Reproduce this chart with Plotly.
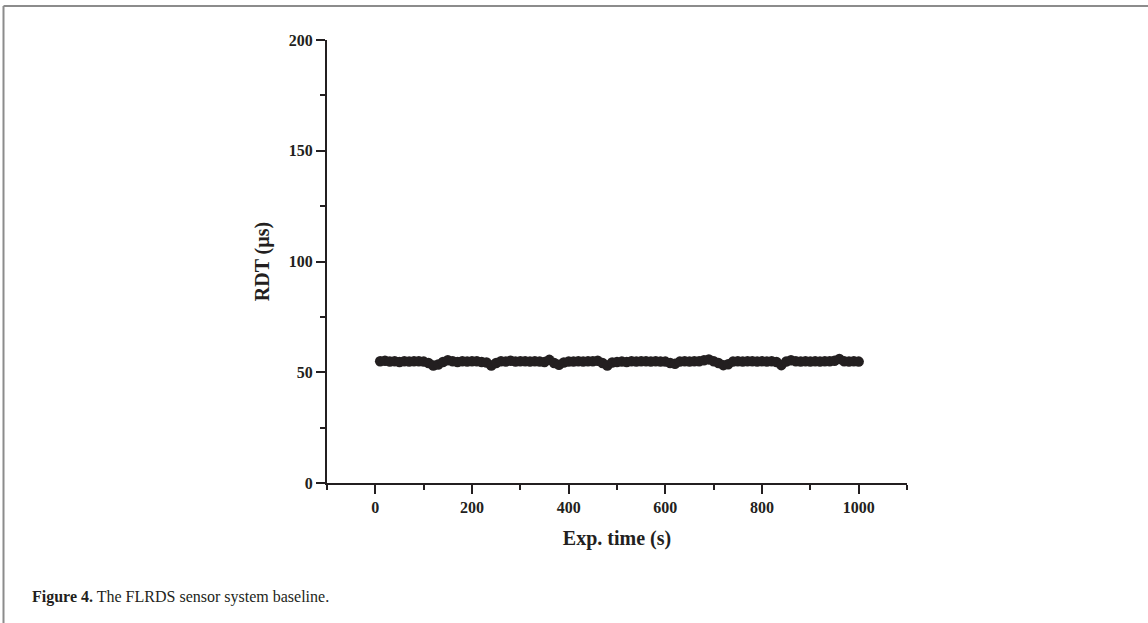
import plotly.graph_objects as go

time_s = list(range(10, 1001, 10))
rdt_us = [
    55.0, 55.2, 54.8, 55.0, 54.6, 55.0, 54.8, 55.0, 55.0, 54.8,
    54.2, 53.0, 53.5, 54.6, 55.4, 55.0, 54.6, 55.0, 54.8, 55.0,
    55.0, 54.6, 54.4, 53.0, 54.2, 55.0, 54.8, 55.2, 54.8, 55.0,
    55.0, 54.8, 55.0, 54.8, 54.6, 55.6, 54.2, 53.4, 54.4, 54.8,
    54.8, 55.0, 54.8, 55.0, 55.0, 55.2, 54.2, 53.0, 54.4, 54.6,
    54.8, 54.6, 55.0, 54.8, 55.0, 55.0, 54.8, 55.0, 54.8, 54.8,
    54.2, 53.8, 54.8, 55.0, 54.8, 55.0, 55.0, 55.4, 55.8, 55.0,
    54.2, 53.2, 53.6, 54.8, 55.0, 54.8, 55.0, 55.0, 54.8, 55.0,
    54.8, 55.0, 54.6, 53.2, 54.8, 55.4, 55.0, 54.8, 55.0, 54.8,
    55.0, 54.8, 55.0, 55.0, 55.2, 56.0, 55.0, 54.8, 55.0, 54.8,
]

x_title = "Exp. time (s)"
y_title = "RDT (µs)"
caption_bold = "Figure 4."
caption_rest = " The FLRDS sensor system baseline."

ink = "#231f20"
serif = "Liberation Serif"

fig = go.Figure()
fig.add_trace(go.Scatter(
    x=time_s, y=rdt_us, mode="lines+markers",
    line=dict(color=ink, width=4),
    marker=dict(color=ink, size=10.5),
    showlegend=False,
))

L, R, T, B = 327, 907, 40, 483
W, H = 1148, 623

fig.update_layout(
    width=W, height=H,
    margin=dict(l=L, r=W - R, t=T, b=H - B),
    paper_bgcolor="white", plot_bgcolor="white",
    font=dict(family=serif, color=ink),
)
fig.update_xaxes(
    range=[-100, 1100], tick0=0, dtick=200,
    showgrid=False, zeroline=False,
    showline=True, linecolor=ink, linewidth=2,
    ticks="outside", ticklen=9, tickwidth=2, tickcolor=ink,
    minor=dict(dtick=100, tick0=-100, ticks="outside", ticklen=5, tickwidth=2, tickcolor=ink),
    tickfont=dict(family=serif, size=16, weight="bold", color=ink),
    title=dict(text="<b>" + x_title + "</b>", font=dict(family=serif, size=20, color=ink), standoff=16),
)
fig.update_yaxes(
    range=[0, 200], tick0=0, dtick=50,
    showgrid=False, zeroline=False,
    showline=True, linecolor=ink, linewidth=2,
    ticks="outside", ticklen=9, tickwidth=2, tickcolor=ink,
    minor=dict(dtick=25, ticks="outside", ticklen=5, tickwidth=2, tickcolor=ink),
    tickfont=dict(family=serif, size=16, weight="bold", color=ink),
    title=dict(text="<b>" + y_title + "</b>", font=dict(family=serif, size=20, color=ink), standoff=14),
)

def px_x(p):
    return (p - L) / (R - L)

def px_y(p):
    return (B - p) / (B - T)

fig.add_shape(type="line", xref="paper", yref="paper",
              x0=px_x(3.5), x1=px_x(W + 5), y0=px_y(6), y1=px_y(6),
              line=dict(color="#8c8c8c", width=2))
fig.add_shape(type="line", xref="paper", yref="paper",
              x0=px_x(3.5), x1=px_x(3.5), y0=px_y(6), y1=px_y(H + 5),
              line=dict(color="#8c8c8c", width=2))

fig.add_annotation(
    xref="paper", yref="paper", x=px_x(30), y=px_y(597),
    xanchor="left", yanchor="middle", showarrow=False,
    text="<b>" + caption_bold + "</b>" + caption_rest,
    font=dict(family=serif, size=16, color=ink),
)

fig.write_html("out.html", config={"displayModeBar": False},
               post_script="document.body.style.margin='0';")
